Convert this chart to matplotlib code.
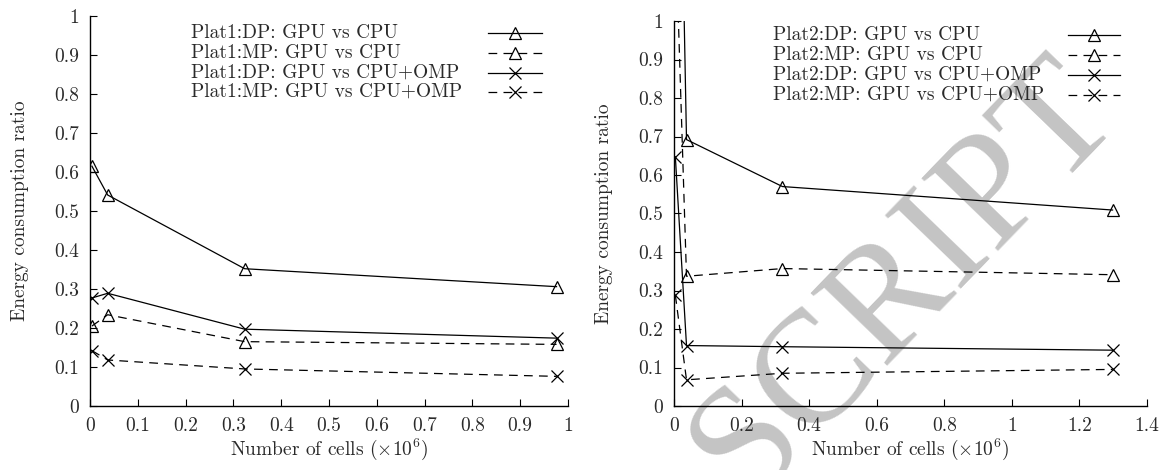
import matplotlib
matplotlib.use("Agg")
import matplotlib.pyplot as plt
from matplotlib.ticker import FuncFormatter, MultipleLocator

plt.rcParams['font.family'] = ['cmr10', 'DejaVu Serif']
plt.rcParams['mathtext.fontset'] = 'cm'
plt.rcParams['axes.formatter.use_mathtext'] = True

# ---- data ----
x1 = [0.004, 0.037, 0.3235, 0.976]
p1_dp_cpu = [0.615, 0.541, 0.352, 0.306]
p1_mp_cpu = [0.205, 0.234, 0.165, 0.158]
p1_dp_omp = [0.277, 0.289, 0.197, 0.174]
p1_mp_omp = [0.142, 0.118, 0.095, 0.076]
labels1 = ["Plat1:DP: GPU vs CPU", "Plat1:MP: GPU vs CPU",
           "Plat1:DP: GPU vs CPU+OMP", "Plat1:MP: GPU vs CPU+OMP"]

x2 = [0.004, 0.037, 0.321, 1.298]
p2_dp_cpu = [2.2, 0.692, 0.570, 0.509]
p2_mp_cpu = [1.25, 0.337, 0.357, 0.341]
p2_dp_omp = [0.647, 0.157, 0.154, 0.145]
p2_mp_omp = [0.288, 0.068, 0.085, 0.095]
labels2 = ["Plat2:DP: GPU vs CPU", "Plat2:MP: GPU vs CPU",
           "Plat2:DP: GPU vs CPU+OMP", "Plat2:MP: GPU vs CPU+OMP"]

xlabel = r"Number of cells ($\times 10^6$)"
ylabel = "Energy consumption ratio"

FS = 14
TXT = '#2a2a2a'
dash = (0, (7, 5))
styles = [
    dict(ls='-', marker='^', ms=8, mfc='none'),
    dict(ls=dash, marker='^', ms=8, mfc='none'),
    dict(ls='-', marker='x', ms=9),
    dict(ls=dash, marker='x', ms=9),
]

fig = plt.figure(figsize=(11.6, 4.7), dpi=100)
ax1 = fig.add_axes([90/1160, 64/470, 478/1160, 390/470])
ax2 = fig.add_axes([674/1160, 64/470, 473/1160, 385/470])

fmt = FuncFormatter(lambda v, p: "%g" % round(v, 6))


def draw(ax, x, series, labels, xmax, xstep, leg_x, leg_h0, leg_h1, leg_ys):
    ax.set_facecolor('none')
    for ys, lab, st, ly in zip(series, labels, styles, leg_ys):
        ax.plot(x, ys, color='black', lw=0.9, mew=0.9, mec='black', **st)
        # gnuplot-style key entry: text left, sample on the right
        ax.text(leg_x, ly, lab, transform=ax.transAxes, fontsize=FS,
                color=TXT, ha='left', va='center')
        ax.plot([leg_h0, leg_h1], [ly, ly], transform=ax.transAxes,
                color='black', lw=0.9, ls=st['ls'], clip_on=False)
        ax.plot([(leg_h0 + leg_h1) / 2], [ly], transform=ax.transAxes,
                color='black', mew=0.9, marker=st['marker'], ms=st['ms'],
                mfc='none' if st['marker'] == '^' else 'black',
                ls='none', clip_on=False)
    ax.set_xlim(0, xmax)
    ax.set_ylim(0, 1)
    ax.xaxis.set_major_locator(MultipleLocator(xstep))
    ax.yaxis.set_major_locator(MultipleLocator(0.1))
    ax.xaxis.set_major_formatter(fmt)
    ax.yaxis.set_major_formatter(fmt)
    for s in ['top', 'right']:
        ax.spines[s].set_visible(False)
    for s in ['left', 'bottom']:
        ax.spines[s].set_linewidth(1.0)
    ax.tick_params(direction='in', length=5, width=0.8, labelsize=FS,
                   colors='black', labelcolor=TXT, pad=8)
    ax.set_xlabel(xlabel, fontsize=FS, color=TXT, labelpad=1)
    ax.set_ylabel(ylabel, fontsize=FS, color=TXT, labelpad=18)


draw(ax1, x1, [p1_dp_cpu, p1_mp_cpu, p1_dp_omp, p1_mp_omp], labels1,
     1.0, 0.1, 0.211, 0.833, 0.946, [0.956, 0.905, 0.854, 0.805])
draw(ax2, x2, [p2_dp_cpu, p2_mp_cpu, p2_dp_omp, p2_mp_omp], labels2,
     1.4, 0.2, 0.209, 0.833, 0.943, [0.964, 0.912, 0.860, 0.808])

fig.text(0.780, 0.404, "SCRIPT", rotation=46, fontsize=115,
         family='Liberation Serif', color='#c4c4c4',
         ha='center', va='center', zorder=-1)

fig.savefig("out.png", dpi=100)
